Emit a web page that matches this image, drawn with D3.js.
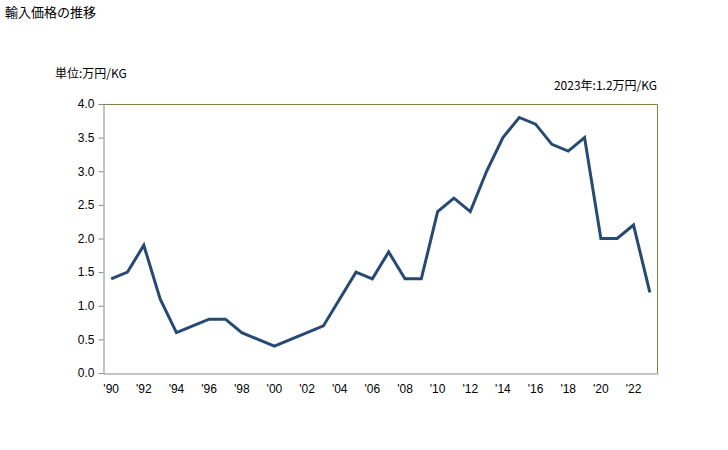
<!DOCTYPE html>
<html><head><meta charset="utf-8">
<script src="https://cdn.jsdelivr.net/npm/d3@7"></script>
<style>body{margin:0;background:#fff;font-family:"Noto Sans CJK JP","Liberation Sans",sans-serif;}</style>
</head><body>
<script>
const years = d3.range(1990, 2024);
const values = [1.4,1.5,1.9,1.1,0.6,0.7,0.8,0.8,0.6,0.5,0.4,0.5,0.6,0.7,1.1,1.5,1.4,1.8,1.4,1.4,2.4,2.6,2.4,3.0,3.5,3.8,3.7,3.4,3.3,3.5,2.0,2.0,2.2,1.2];
const yTicks = [0,0.5,1.0,1.5,2.0,2.5,3.0,3.5,4.0];
const xTickYears = years.filter(y => y % 2 === 0);
const title = "輸入価格の推移";
const unitLabel = "単位:万円/KG";
const noteLabel = "2023年:1.2万円/KG";

const W = 728, H = 450;
const L = 103, R = 658, T = 104, B = 373;
const svg = d3.select("body").append("svg").attr("width", W).attr("height", H);

const x = d3.scaleBand().domain(years).range([L, R]).padding(0);
const y = d3.scaleLinear().domain([0, 4]).range([B, T]);

svg.append("text").attr("x", 5).attr("y", 17).attr("font-size", 13).attr("fill", "#000").text(title);
svg.append("text").attr("x", 55).attr("y", 78).attr("font-size", 12).attr("fill", "#000").text(unitLabel);
svg.append("text").attr("x", 657).attr("y", 90).attr("text-anchor", "end").attr("font-size", 12).attr("fill", "#000").text(noteLabel);

// border top/right
svg.append("path").attr("d", `M${L},${T+0.5}H${R-0.5}V${B}`).attr("fill", "none").attr("stroke", "#8c7f3c").attr("stroke-width", 1);

// y axis
const yAxis = d3.axisLeft(y).tickValues(yTicks).tickFormat(d3.format(".1f")).tickSize(5).tickSizeOuter(0);
const gy = svg.append("g").attr("transform", `translate(${L+0.5},0)`).call(yAxis);
gy.select(".domain").attr("stroke", "#888");
gy.selectAll(".tick line").attr("stroke", "#888");
gy.selectAll(".tick text").attr("font-size", 12).attr("fill", "#000").attr("x", -9).attr("font-family", "'Liberation Sans',sans-serif");

// x axis
const xAxis = d3.axisBottom(x).tickValues(xTickYears).tickFormat(d => "'" + String(d).slice(2)).tickSize(0).tickSizeOuter(0);
const gx = svg.append("g").attr("transform", `translate(0,${B+0.5})`).call(xAxis);
gx.select(".domain").attr("stroke", "#888");
gx.selectAll(".tick text").attr("font-size", 12).attr("fill", "#000").attr("dy", "0.71em").attr("y", 11).attr("font-family", "'Liberation Sans',sans-serif");

const line = d3.line().x((d, i) => x(years[i]) + x.bandwidth() / 2).y(d => y(d));
svg.append("path").datum(values).attr("d", line).attr("fill", "none").attr("stroke", "#264a73").attr("stroke-width", 3).attr("stroke-linejoin", "miter");
</script>
</body></html>
